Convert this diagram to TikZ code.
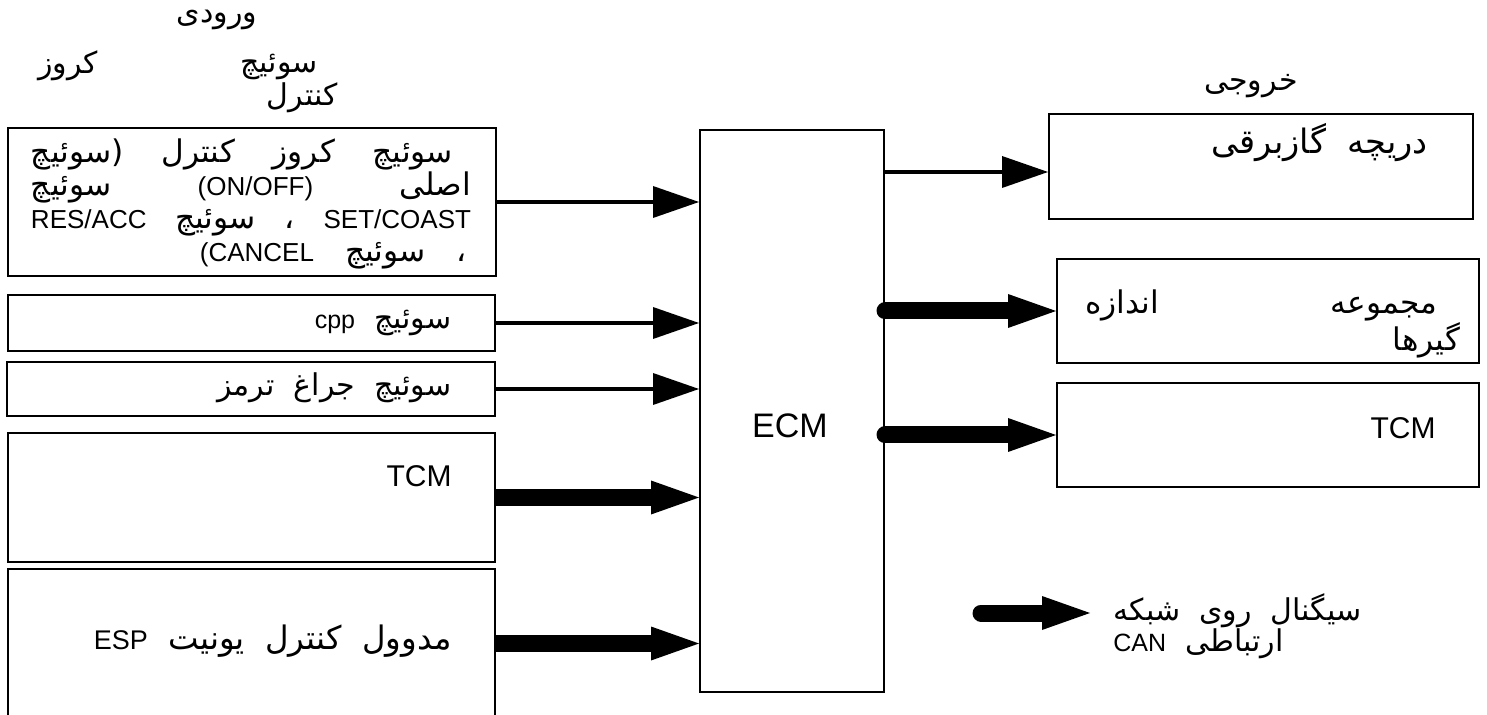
\documentclass[tikz,border=0pt]{standalone}
\usepackage{fontspec}
\setmainfont{Liberation Sans}
\newfontfamily\fafont[Script=Arabic,Scale=1.2,WordSpace=2]{DejaVu Sans}
\TeXXeTstate=1
\usetikzlibrary{arrows.meta}
\newcommand\fatx[1]{{\fafont\beginR #1\endR}}
\newcommand\latx[1]{{\rmfamily #1}}

\begin{document}
\begin{tikzpicture}[x=0.5pt,y=-0.5pt
,pbox/.style={draw=black,line width=1pt,fill=white,inner sep=0pt}
,ptxt/.style={inner sep=0pt,font=\fontsize{12.5}{16.4}\selectfont}
,pbig/.style={inner sep=0pt,font=\fontsize{15}{18}\selectfont}
,pwire/.style={line width=2pt,-{Triangle[length=23pt,width=16pt,line width=0pt]}}
,pbus/.style={line width=8.5pt,-{Triangle[length=24pt,width=17pt,line width=0pt]}}
]
\useasboundingbox (0,0) rectangle (1487,715);
\clip (0,0) rectangle (1487,715);
\node[ptxt] (intitle) at (217,20) {\fatx{ورودی}};
\node[ptxt] (hcruise) at (68,66) {\fatx{کروز}};
\node[ptxt] (hswitch) at (279,67) {\fatx{سوئیچ}};
\node[ptxt] (hcontrol) at (302,98) {\fatx{کنترل}};
\node[ptxt] (outtitle) at (1251,86) {\fatx{خروجی}};
\node[pbox,minimum width=244pt,minimum height=74pt] (cruise) at (252,202) {};
\node[pbox,minimum width=243.5pt,minimum height=28pt] (cpp) at (251.5,323) {};
\node[pbox,minimum width=244pt,minimum height=27pt] (brake) at (251,389) {};
\node[pbox,minimum width=243.5pt,minimum height=64.5pt] (tcmin) at (251.5,497.5) {};
\node[pbox,minimum width=243.5pt,minimum height=74.5pt] (esp) at (251.5,643.5) {};
\node[pbox,minimum width=92pt,minimum height=281pt] (ecm) at (792,411) {};
\node[pbox,minimum width=212pt,minimum height=52.5pt] (valve) at (1261,166.5) {};
\node[pbox,minimum width=211pt,minimum height=52pt] (gauge) at (1268,311) {};
\node[pbox,minimum width=211pt,minimum height=52pt] (tcmout) at (1268,435) {};
\node[ptxt,align=right,font=\fontsize{13}{16.4}\selectfont] (cruisetxt) at (251,204) {%
\hbox to 220pt{\fatx{\hspace{9pt}سوئیچ\hfill کروز\hfill کنترل\hfill (سوئیچ}}\\
\hbox to 220pt{\fatx{اصلی\hfill \latx{(ON/OFF)}\hfill سوئیچ}}\\
\hbox to 220pt{\fatx{\latx{SET/COAST}\hfill ،\hfill سوئیچ\hfill \latx{RES/ACC}}}\\
\hbox to 220pt{\hfill\fatx{،\quad سوئیچ\quad \latx{(CANCEL}}\hspace{2pt}}};
\node[ptxt,anchor=east] (cpptxt) at (452,323) {\fatx{سوئیچ \latx{cpp}}};
\node[ptxt,anchor=east] (braketxt) at (452,388) {\fatx{سوئیچ جراغ ترمز}};
\node[pbig,anchor=east] (tcmintxt) at (452,476) {TCM};
\node[ptxt,anchor=east,font=\fontsize{13.5}{16}\selectfont] (esptxt) at (452,641) {\fatx{مدوول کنترل یونیت \latx{ESP}}};
\node[ptxt,font=\fontsize{17}{20}\selectfont] (ecmtxt) at (790,426) {ECM};
\node[ptxt,anchor=east,font=\fontsize{14}{17}\selectfont] (valvetxt) at (1428,143) {\fatx{دریچه گازبرقی}};
\node[ptxt,align=right,font=\fontsize{13}{17}\selectfont] (gaugetxt) at (1272.5,324) {%
\hbox to 187.5pt{\fatx{\hspace{11.5pt}مجموعه\hfill اندازه}}\\
\hbox to 187.5pt{\hfill\fatx{گیرها}}};
\node[pbig,anchor=east] (tcmouttxt) at (1436,428) {TCM};
\coordinate (valvein) at ([yshift=-2.75pt]valve.west);
\draw[pwire] (cruise.east) -- (cruise.east -| ecm.west);
\draw[pwire] (cpp.east) -- (cpp.east -| ecm.west);
\draw[pwire] (brake.east) -- (brake.east -| ecm.west);
\draw[pbus] (tcmin.east) -- (tcmin.east -| ecm.west);
\draw[pbus] (esp.east) -- (esp.east -| ecm.west);
\draw[pwire,line cap=round] (ecm.east |- valvein) -- (valvein);
\draw[pbus,line cap=round] (ecm.east |- gauge.west) -- (gauge.west);
\draw[pbus,line cap=round] (ecm.east |- tcmout.west) -- (tcmout.west);
\coordinate (legtail) at (981,613);
\coordinate (leghead) at (1090,613);
\draw[pbus,line cap=round] (legtail) -- (leghead);
\node[ptxt,align=left,anchor=west,font=\fontsize{12.5}{15.5}\selectfont] (legtxt) at (1113,626) {%
\fatx{سیگنال روی شبکه}\\
\fatx{ارتباطی \latx{CAN}}};
\end{tikzpicture}
\end{document}
